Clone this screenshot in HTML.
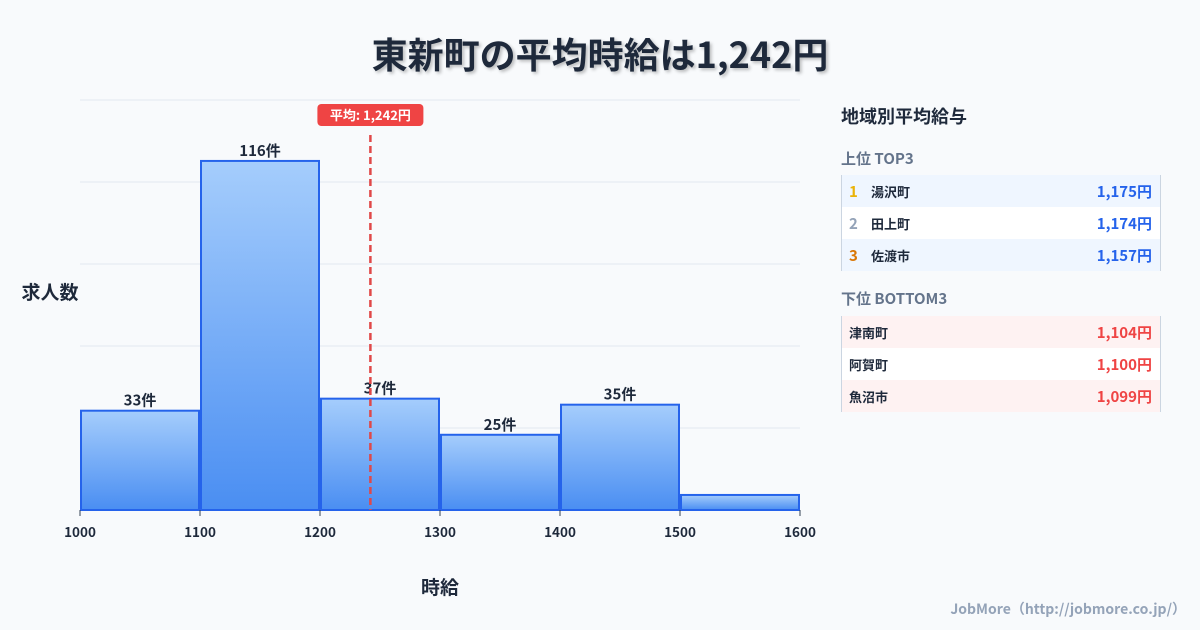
<!DOCTYPE html>
<html><head><meta charset="utf-8"><style>
body{margin:0;width:1200px;height:630px;background:#f8fafc;font-family:"Noto Sans CJK JP","Liberation Sans",sans-serif;position:relative;overflow:hidden;color:#1e293b}
.abs{position:absolute}
#title{left:0;width:1200px;top:28px;text-align:center;font-size:36px;line-height:50px;font-weight:bold;color:#1e293b;text-shadow:2px 2px 3px rgba(0,0,0,.25)}
.panel-h{left:841px;font-weight:bold;line-height:24px}
.row{left:841px;width:318px;height:32px;border-left:1px solid #cbd5e1;border-right:1px solid #cbd5e1;font-size:13px;font-weight:bold;display:flex;align-items:center}
.row .r{width:22px;padding-left:7px;font-size:15px}
.row .n{flex:1}
.row .v{font-size:15px;padding-right:8px}
</style></head><body>
<div id="title" class="abs">東新町の平均時給は1,242円</div>
<svg class="abs" style="left:0;top:0" width="820" height="630" font-family="Noto Sans CJK JP, Liberation Sans, sans-serif">
<defs><linearGradient id="g" x1="0" y1="0" x2="0" y2="1"><stop offset="0" stop-color="#a5cdfc"/><stop offset="1" stop-color="#4a8ef2"/></linearGradient></defs>
<g id="grid"></g><g id="bars"></g><g id="xt"></g><g id="mean"></g>
<text x="50" y="299" text-anchor="middle" font-size="19" font-weight="bold" fill="#1e293b">求人数</text>
<text x="440" y="594" text-anchor="middle" font-size="19" font-weight="bold" fill="#1e293b">時給</text>
</svg>
<div class="abs panel-h" style="top:104px;font-size:18px">地域別平均給与</div>
<div class="abs panel-h" style="top:147px;font-size:15px;color:#64748b">上位 TOP3</div>
<div class="abs row" style="top:175px;background:#eff6ff"><span class="r" style="color:#eab308">1</span><span class="n">湯沢町</span><span class="v" style="color:#2563eb">1,175円</span></div>
<div class="abs row" style="top:207px;background:#fff"><span class="r" style="color:#94a3b8">2</span><span class="n">田上町</span><span class="v" style="color:#2563eb">1,174円</span></div>
<div class="abs row" style="top:239px;background:#eff6ff"><span class="r" style="color:#d97706">3</span><span class="n">佐渡市</span><span class="v" style="color:#2563eb">1,157円</span></div>
<div class="abs panel-h" style="top:287px;font-size:15px;color:#64748b">下位 BOTTOM3</div>
<div class="abs row" style="top:316px;background:#fef2f2"><span class="n" style="padding-left:7px">津南町</span><span class="v" style="color:#ef4444">1,104円</span></div>
<div class="abs row" style="top:348px;background:#fff"><span class="n" style="padding-left:7px">阿賀町</span><span class="v" style="color:#ef4444">1,100円</span></div>
<div class="abs row" style="top:380px;background:#fef2f2"><span class="n" style="padding-left:7px">魚沼市</span><span class="v" style="color:#ef4444">1,099円</span></div>
<div class="abs" style="right:14px;top:599px;font-size:14px;font-weight:bold;color:#94a3b8">JobMore（http://jobmore.co.jp/）</div>
<script>
const binStarts=[1000,1100,1200,1300,1400,1500];
const counts=[33,116,37,25,35,5];
const countLabels=['33件','116件','37件','25件','35件',''];
const xTicks=[1000,1100,1200,1300,1400,1500,1600];
const meanValue=1242;
const yMax=136.25;
const NS='http://www.w3.org/2000/svg';
const X=v=>80+(v-1000)*1.2;
const Y=v=>510-v/yMax*410;
function mk(p,t,a){const e=document.createElementNS(NS,t);for(const k in a)e.setAttribute(k,a[k]);document.getElementById(p).appendChild(e);return e;}
for(let i=0;i<=5;i++){const y=Y(yMax*i/5);const l=mk('grid','line',{x1:80,x2:800,y1:y,y2:y,stroke:'#e2e8f0'});

}
binStarts.forEach((b,i)=>{const r=mk('bars','rect',{x:X(b)+1,y:Y(counts[i]),width:X(b+100)-X(b)-2,height:Y(0)-Y(counts[i]),fill:'url(#g)',stroke:'#2563eb','stroke-width':2});


if(countLabels[i]){const t=mk('bars','text',{x:(X(b)+X(b+100))/2,y:Y(counts[i])-5,'text-anchor':'middle','font-size':15,'font-weight':'bold',fill:'#1e293b'});t.textContent=countLabels[i];

}});
xTicks.forEach(v=>{mk('xt','line',{x1:X(v),x2:X(v),y1:510,y2:516,stroke:'#334155'});const t=mk('xt','text',{x:X(v),y:537,'text-anchor':'middle','font-size':13.5,'font-weight':'bold',fill:'#1e293b'});t.textContent=v;

});
const mx=X(meanValue);
const ml=mk('mean','line',{x1:mx,x2:mx,y1:135,y2:510,stroke:'#e04848','stroke-width':2.5,'stroke-dasharray':'7,4'});


const mb=mk('mean','rect',{x:mx-53,y:104,width:106,height:22,rx:4,fill:'#ef4444'});


const mt=mk('mean','text',{x:mx,y:120,'text-anchor':'middle','font-size':13,'font-weight':'bold',fill:'#fff'});mt.textContent='平均: 1,242円';


</script>
</body></html>
